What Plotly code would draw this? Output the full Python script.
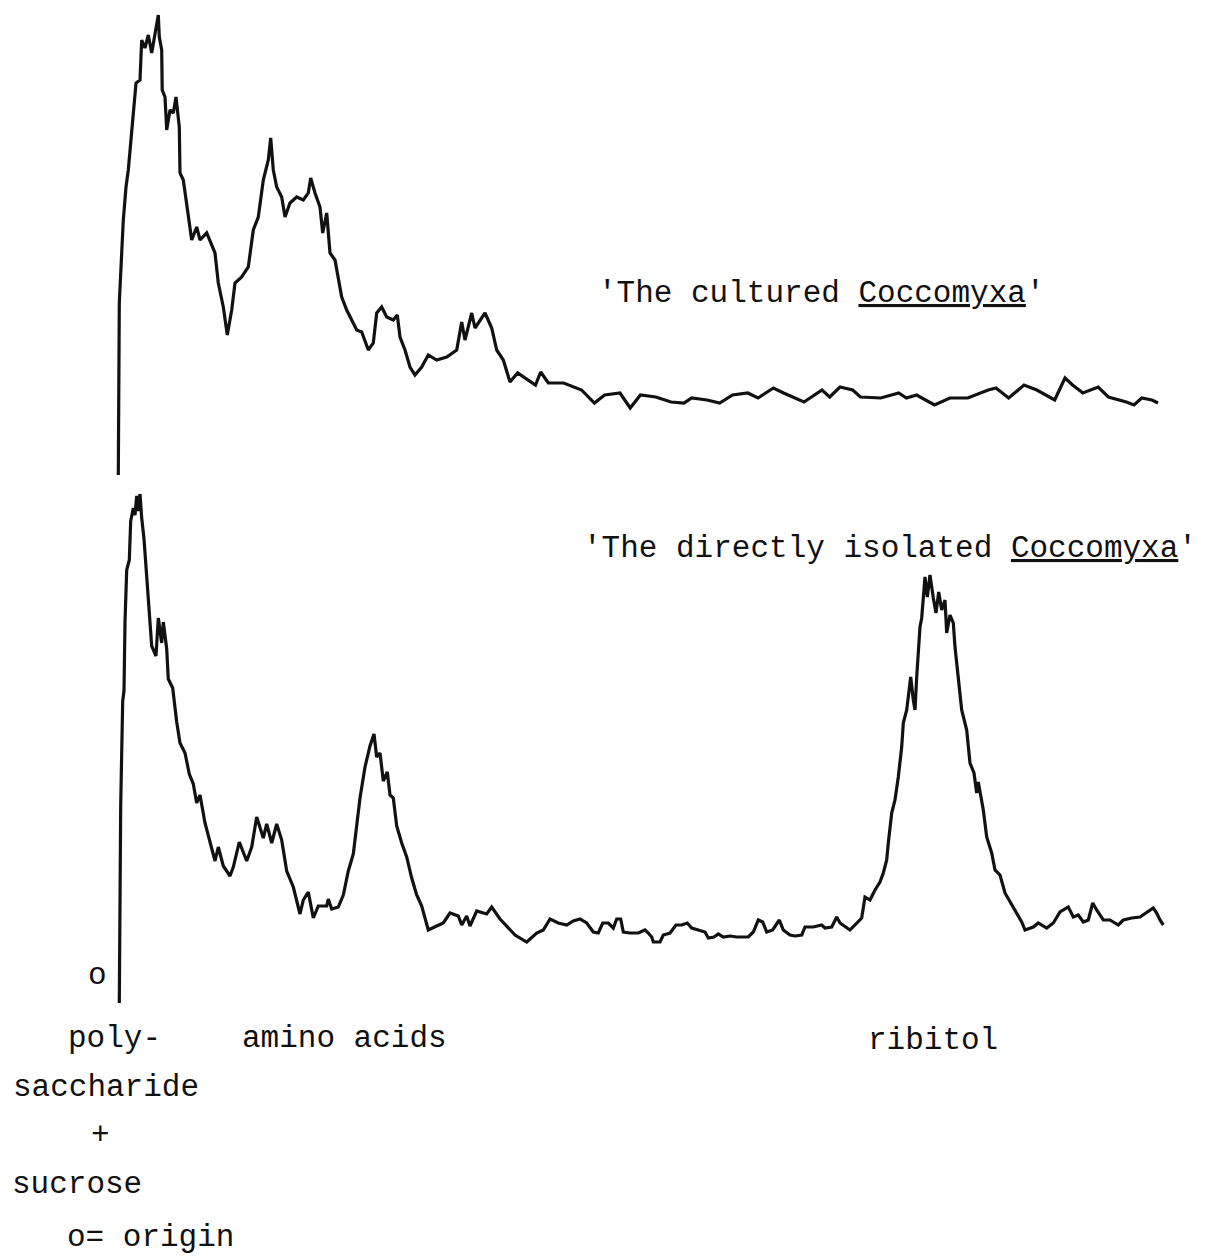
import plotly.graph_objects as go

# Densitometer scans of the chromatograms.
# distance from the origin (arbitrary units) and detector response (arbitrary units)

# 'The cultured Coccomyxa'
dist_cultured = [
    -1.7, -0.7, 1.7, 3.3, 6, 8.3, 10.7, 13.3, 16, 20, 21.7, 25, 28.3, 31.7, 35, 38.3, 39.3, 41.7,
    42.2, 45, 46.7, 50, 53.3, 56, 59.3, 60, 63.3, 68.3, 71.7, 76.7, 80, 86.7, 95, 98.3, 103.3,
    107.3, 111.7, 115, 121.7, 128.3, 133.3, 138.3, 143.3, 148.3, 150.7, 153.3, 156.7, 161.7, 165,
    170, 176.7, 183.3, 188.3, 190.7, 195, 200, 202.7, 206.7, 210, 215, 218.3, 221.7, 226.7, 231.7,
    236.7, 241.7, 248.3, 253.3, 256.7, 261.7, 266.7, 273.3, 277.3, 280, 285, 290, 295, 301.7,
    308.3, 316.7, 326.7, 336.7, 341.7, 345, 351.7, 355, 365, 371.7, 376.7, 383.3, 390, 397.6,
    407.9, 415.5, 420.7, 428.3, 443.7, 454, 461.6, 474.4, 484.6, 500, 510.2, 520.4, 535.8, 551,
    564, 571.6, 587, 599.7, 612.5, 627.8, 638, 653.4, 663.6, 684, 702, 709.7, 720, 732.7, 740.4,
    760.8, 778.7, 786.4, 796.6, 814.5, 829.9, 847.8, 868.2, 875.9, 888.7, 904, 916.8, 934.7, 945,
    952.6, 962.9, 978.2, 988.4, 1006.3, 1014, 1021.7, 1031.9, 1038,
]
resp_cultured = [
    0, 172, 222, 255, 288, 305, 332, 362, 392, 395, 435, 427, 440, 422, 442, 460, 438, 425,
    385, 378, 345, 365, 362, 378, 348, 302, 295, 258, 235, 248, 235, 242, 222, 192, 168,
    140, 165, 192, 198, 208, 245, 258, 295, 315, 337, 305, 288, 278, 258,
    272, 278, 275, 282, 297, 282, 268, 242, 262, 222, 215, 195, 178, 165, 155,
    145, 143, 125, 132, 162, 168, 158, 155, 160, 138, 125, 108, 100, 108,
    120, 115, 118, 125, 153, 135, 162, 147, 162, 147, 125, 115, 93, 102,
    95, 90, 103, 92, 92, 88, 85, 72, 80, 82, 67, 80, 78, 73,
    72, 77, 75, 72, 80, 82, 77, 87, 82, 73, 85, 78, 88, 85, 78,
    77, 82, 77, 80, 70, 77, 77, 85, 87, 77, 90, 85, 75, 97,
    90, 82, 88, 78, 73, 70, 77, 75, 72,
]

# 'The directly isolated Coccomyxa'
dist_isolated = [
    -0.7, 0.7, 2.7, 4, 5, 6.7, 9.3, 10.7, 13.3, 15, 16.7, 18.3, 20, 21.7, 24, 26.7, 29.3, 31.7,
    36, 38.3, 41.7, 43.3, 46.7, 48.3, 52.7, 56.7, 60, 65, 69.3, 73.3, 76.7, 80, 85, 90, 95, 98.3,
    103.3, 110, 113.3, 119.3, 126.7, 131.7, 136.7, 143.3, 146.7, 151.7, 156.7, 161.7, 166.7,
    173.3, 180, 183.3, 188.3, 193.3, 198.3, 206.7, 208.3, 211.7, 218.3, 223.3, 228.3, 233.3,
    236.7, 240, 245, 250, 254, 256.7, 260, 263.3, 267.3, 270, 273.3, 276.7, 281.7, 286.7, 291.7,
    296.7, 301.7, 305, 308.3, 316.7, 323.3, 330, 338.3, 341.7, 346.7, 350, 356.7, 366.7, 371.7,
    380, 386.7, 395, 406.7, 416.7, 423.3, 430, 438.3, 446.7, 453.3, 460, 466.7, 473.3, 478.3,
    482.7, 488.3, 493.3, 496.7, 500.7, 503.3, 510, 518.3, 525, 528.3, 531.7, 533.3, 540, 543.3,
    550, 556, 561.7, 567.3, 571.7, 578.3, 585, 588.3, 594, 598.3, 603.3, 610, 616.7, 628.3,
    633.3, 638.3, 642.7, 646.7, 652.7, 659.3, 663.3, 670, 675, 681.7, 685, 693.3, 701.7, 705,
    711.7, 716.7, 720, 730, 736.7, 741.7, 745, 750, 755, 760, 763.3, 766.7, 768.3, 771.7, 775,
    778.3, 781.7, 783.3, 786.7, 790.7, 793.3, 795, 796.7, 800, 801.7, 805, 807.3, 810, 813.3,
    816, 818.7, 821.7, 825, 826.7, 830, 833.3, 835, 838.3, 841.7, 846.7, 850, 854, 856.7, 858.3,
    863.3, 866.7, 871.7, 875, 880, 885, 890, 896.7, 901.7, 905, 913.3, 918.3, 926.7, 933.3, 940,
    948.3, 953.3, 958.3, 963.3, 968.3, 972.7, 976.7, 983.3, 990, 998.3, 1003.3, 1011.7, 1020,
    1026.7, 1033.3, 1036.7, 1040, 1043.3,
]
resp_isolated = [
    0, 198, 302, 312, 381, 433, 443, 482, 495, 488, 507, 492, 509, 485, 464, 423, 395, 357,
    347, 385, 360, 381, 354, 324, 315, 281, 260, 250, 229, 219, 200, 208, 180, 160, 142, 156,
    137, 127, 136, 161, 142, 156, 186, 165, 179, 160, 179, 163, 132,
    116, 89, 103, 111, 85, 97, 97, 104, 94, 96, 108, 132, 149,
    177, 205, 236, 257, 269, 246, 250, 222, 231, 208, 205, 177, 160, 146, 125,
    108, 97, 84, 73, 77, 80, 90, 87, 78, 87, 77, 92, 89, 96,
    84, 77, 68, 61, 70, 73, 84, 80, 78, 82, 84, 80, 71, 70,
    80, 80, 75, 84, 84, 71, 70, 70, 73, 70, 66, 61, 61, 68,
    70, 78, 78, 80, 75, 73, 71, 65, 66, 69, 66, 67, 66, 66,
    71, 83, 81, 71, 73, 83, 73, 68, 67, 68, 76, 76, 78, 75,
    76, 86, 80, 73, 80, 85, 106, 103, 113, 121, 130, 143, 160, 190, 203,
    226, 256, 280, 293, 326, 303, 293, 326, 376, 385, 426, 406, 428, 405,
    390, 411, 393, 403, 370, 388, 380, 356, 326, 293, 273, 240, 230, 210, 221,
    193, 166, 150, 133, 128, 110, 101, 90, 81, 73, 76, 80, 75, 80, 91,
    96, 86, 88, 81, 83, 100, 93, 83, 83, 78, 83, 85, 86,
    91, 95, 90, 83, 78,
]

W, H = 1215, 1260
INK = "#111111"
FONT = dict(family="Liberation Mono, Courier New, monospace", size=31, color=INK)

fig = go.Figure()
fig.add_trace(go.Scatter(
    x=dist_cultured, y=resp_cultured, mode="lines",
    line=dict(color=INK, width=3.2), yaxis="y", hoverinfo="skip",
))
fig.add_trace(go.Scatter(
    x=dist_isolated, y=resp_isolated, mode="lines",
    line=dict(color=INK, width=3.2), yaxis="y2", hoverinfo="skip",
))


def px(x, y):
    return dict(x=x / W, y=1 - y / H, xref="paper", yref="paper")


labels = [
    ("'The cultured <u>Coccomyxa</u>'", 596, 293, "left"),
    ("'The directly isolated <u>Coccomyxa</u>'", 581, 548, "left"),
    ("o", 97, 975, "center"),
    ("poly-", 66, 1038, "left"),
    ("amino acids", 240, 1038, "left"),
    ("ribitol", 866, 1040, "left"),
    ("saccharide", 11, 1087, "left"),
    ("+", 100, 1135, "center"),
    ("sucrose", 10, 1184, "left"),
    ("o= origin", 65, 1237, "left"),
]
for text, lx, ly, anchor in labels:
    fig.add_annotation(text=text, showarrow=False, xanchor=anchor, yanchor="middle",
                       font=FONT, **px(lx, ly))

axis_off = dict(visible=False, showgrid=False, zeroline=False, fixedrange=True)
fig.update_layout(
    width=W, height=H,
    margin=dict(l=0, r=0, t=0, b=0),
    paper_bgcolor="white", plot_bgcolor="white",
    showlegend=False,
    xaxis=dict(range=[-120, 1095], domain=[0, 1], **axis_off),
    yaxis=dict(range=[0, 475], domain=[1 - 475 / H, 1], **axis_off),
    yaxis2=dict(range=[-257, 523], domain=[0, 1 - 480 / H], **axis_off),
)

# the page's default body margin would push the figure 8px down and right
fig.write_html("out.html", config={"displayModeBar": False},
               post_script="document.body.style.margin='0';")
